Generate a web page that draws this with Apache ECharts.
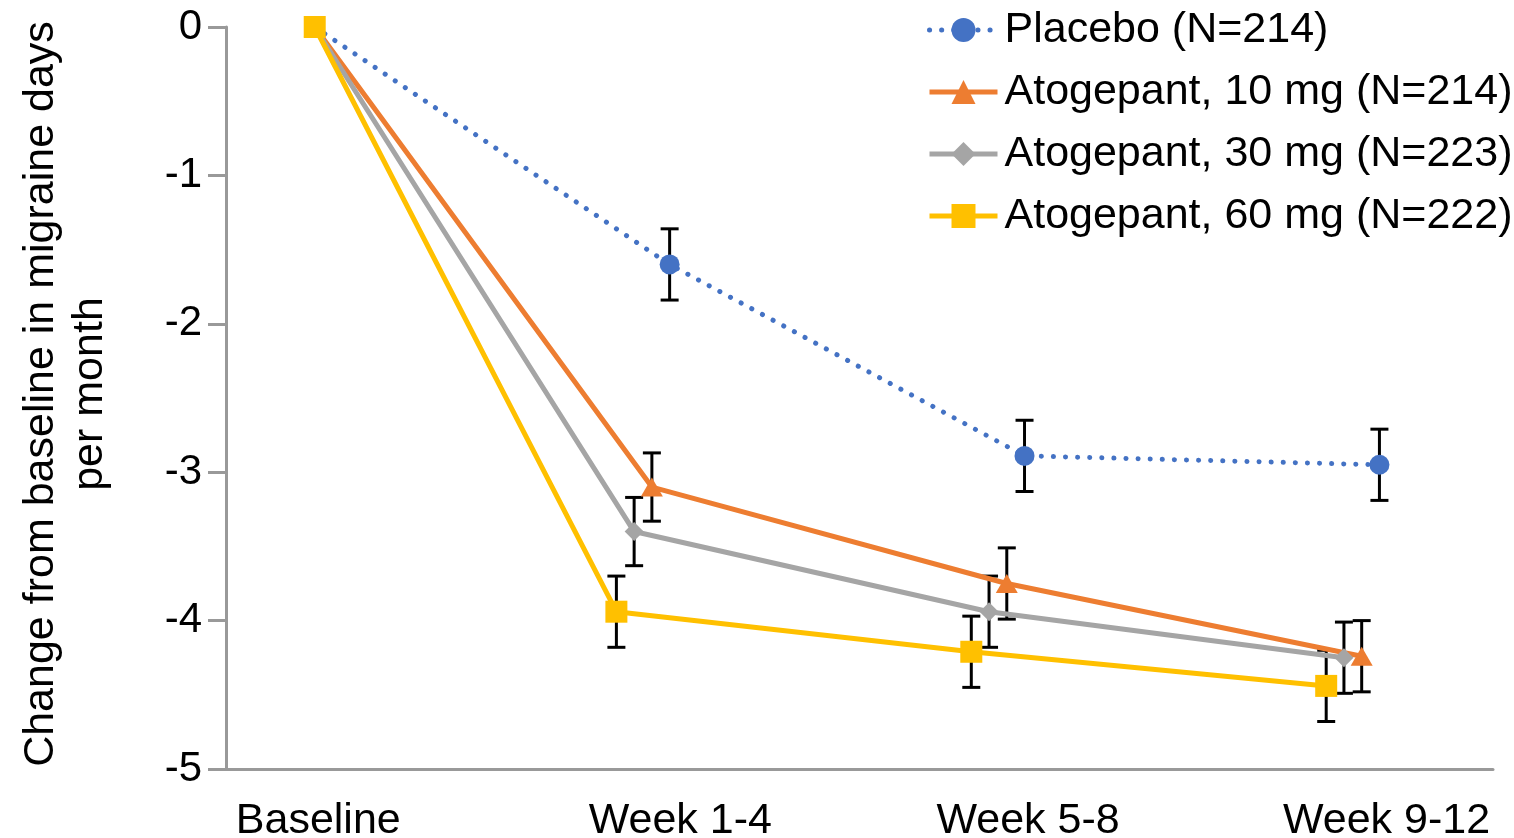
<!DOCTYPE html>
<html>
<head>
<meta charset="utf-8">
<script src="https://cdn.jsdelivr.net/npm/echarts@6/dist/echarts.min.js"></script>
<style>
html,body{margin:0;padding:0;background:#fff;}
#chart{width:1514px;height:838px;}
</style>
</head>
<body>
<div id="chart"></div>
<script>
// ---- data ----
const categories = ['Baseline', 'Week 1-4', 'Week 5-8', 'Week 9-12'];
const seriesNames = ['Placebo (N=214)', 'Atogepant, 10 mg (N=214)', 'Atogepant, 30 mg (N=223)', 'Atogepant, 60 mg (N=222)'];
const placebo = [0, -1.60, -2.89, -2.95];
const atog10 = [0, -3.10, -3.75, -4.24];
const atog30 = [0, -3.40, -3.94, -4.25];
const atog60 = [0, -3.94, -4.21, -4.44];
const placeboErr = [null, 0.24, 0.24, 0.24];
const atog10Err = [null, 0.23, 0.24, 0.24];
const atog30Err = [null, 0.23, 0.24, 0.24];
const atog60Err = [null, 0.24, 0.24, 0.24];
const yTicks = [0, -1, -2, -3, -4, -5];

// ---- layout / style ----
const values = [placebo, atog10, atog30, atog60];
const errs = [placeboErr, atog10Err, atog30Err, atog60Err];
const dodge = [0, -0.05, -0.10, -0.15];
const labelPos = [0.01, 1.03, 2.01, 3.02];
const colors = ['#4472C4', '#ED7D31', '#A5A5A5', '#FFC000'];
const symbols = ['circle', 'triangle', 'diamond', 'rect'];
const symbolSizes = [20, [22, 19], 19, 22];
const FONT = "'Liberation Sans', Arial, sans-serif";

function xPos(i, s) { return i === 0 ? 0 : i + dodge[s]; }

const series = [];
values.forEach((vals, s) => {
  series.push({
    name: seriesNames[s] + ' err',
    type: 'custom',
    z: 2,
    silent: true,
    data: vals.map((v, i) => errs[s][i] == null ? null : [xPos(i, s), v - errs[s][i], v + errs[s][i]]).filter(d => d),
    renderItem: function (params, api) {
      const x = api.value(0);
      const lo = api.coord([x, api.value(1)]);
      const hi = api.coord([x, api.value(2)]);
      const hw = 9;
      const st = { stroke: '#000', lineWidth: 3 };
      return {
        type: 'group',
        children: [
          { type: 'line', shape: { x1: lo[0], y1: lo[1], x2: hi[0], y2: hi[1] }, style: st },
          { type: 'line', shape: { x1: lo[0] - hw, y1: lo[1], x2: lo[0] + hw, y2: lo[1] }, style: st },
          { type: 'line', shape: { x1: hi[0] - hw, y1: hi[1], x2: hi[0] + hw, y2: hi[1] }, style: st }
        ]
      };
    }
  });
});
values.forEach((vals, s) => {
  series.push({
    name: seriesNames[s],
    type: 'line',
    z: 3 + s,
    data: vals.map((v, i) => [xPos(i, s), v]),
    symbol: symbols[s],
    symbolSize: symbolSizes[s],
    showSymbol: true,
    itemStyle: { color: colors[s], opacity: 1 },
    lineStyle: s === 0
      ? { color: colors[s], width: 5, type: [0.1, 12], cap: 'round' }
      : { color: colors[s], width: 5 },
    emphasis: { disabled: true },
    animation: false
  });
});

const chart = echarts.init(document.getElementById('chart'), null, { renderer: 'canvas' });
chart.setOption({
  backgroundColor: '#fff',
  animation: false,
  textStyle: { fontFamily: FONT },
  grid: { left: 226, right: 21, top: 27, bottom: 69, containLabel: false, outerBoundsMode: 'none' },
  legend: {
    data: seriesNames,
    orient: 'vertical',
    left: 922,
    top: 3,
    itemWidth: 68,
    itemHeight: 30,
    itemGap: 18,
    selectedMode: false,
    lineStyle: { width: 5 },
    textStyle: { fontFamily: FONT, fontSize: 43, color: '#000', lineHeight: 44, padding: [0, 0, 0, 2] }
  },
  xAxis: {
    type: 'value',
    min: -0.25,
    max: 3.32,
    axisLine: { show: true, onZero: false, lineStyle: { color: '#999', width: 3 } },
    axisTick: { show: false },
    splitLine: { show: false },
    axisLabel: {
      customValues: labelPos,
      formatter: v => categories[Math.round(v)],
      fontFamily: FONT, fontSize: 43, color: '#000', margin: 31
    }
  },
  yAxis: {
    type: 'value',
    min: -5,
    max: 0,
    interval: 1,
    name: 'Change from baseline in migraine days\nper month',
    nameLocation: 'middle',
    nameRotate: 90,
    nameGap: 111,
    nameTextStyle: { fontFamily: FONT, fontSize: 43, color: '#000', lineHeight: 49, align: 'center', padding: [0, 0, 0, 8] },
    axisLine: { show: true, onZero: false, lineStyle: { color: '#999', width: 3 } },
    axisTick: { show: true, length: 18, lineStyle: { color: '#999', width: 3 } },
    splitLine: { show: false },
    axisLabel: {
      customValues: yTicks,
      fontFamily: FONT, fontSize: 42, color: '#000', margin: 24
    }
  },
  series: series
});
</script>
</body>
</html>
